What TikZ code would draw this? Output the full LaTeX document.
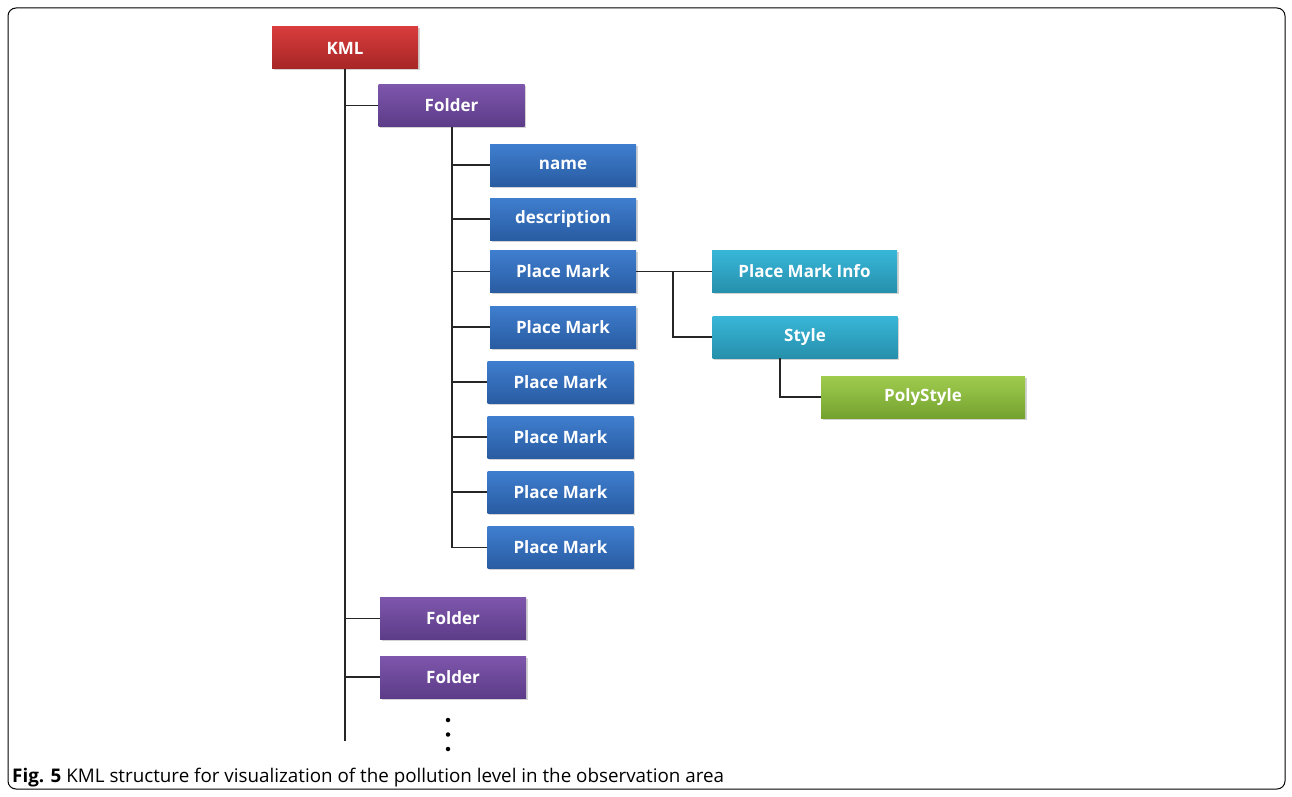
\documentclass[tikz,border=0pt]{standalone}
\usepackage{fontspec}
\setmainfont{Open Sans}
\usetikzlibrary{shadows}
\definecolor{redT}{HTML}{D83C3C}\definecolor{redB}{HTML}{A62626}
\definecolor{purT}{HTML}{7E56AC}\definecolor{purB}{HTML}{5C3C88}
\definecolor{bluT}{HTML}{3F7ECF}\definecolor{bluB}{HTML}{295CA2}
\definecolor{cyaT}{HTML}{38B6D8}\definecolor{cyaB}{HTML}{2690AC}
\definecolor{grnT}{HTML}{9FCC4E}\definecolor{grnB}{HTML}{74A22F}
\tikzset{
  box/.style={minimum height=42pt, inner sep=0pt, text=white,
    font=\fontsize{17}{19}\selectfont\bfseries,
    drop shadow={shadow xshift=1.5pt, shadow yshift=-1.5pt, opacity=0.35}},
  kmlbox/.style={box, top color=redT, bottom color=redB, minimum width=146pt},
  folderbox/.style={box, top color=purT, bottom color=purB, minimum width=146pt},
  itembox/.style={box, top color=bluT, bottom color=bluB, minimum width=146pt},
  infobox/.style={box, top color=cyaT, bottom color=cyaB, minimum width=185pt},
  polybox/.style={box, top color=grnT, bottom color=grnB, minimum width=204pt},
  link/.style={draw=black!85, line width=1.2pt},
  dot/.style={circle, fill=black, inner sep=0pt, minimum size=4.5pt}
}
\begin{document}
\begin{tikzpicture}[x=1pt,y=-1pt]
\useasboundingbox (0,0) rectangle (1292,797);
\draw[black, line width=1pt, rounded corners=8pt] (8,8) rectangle (1285,789);

\node[kmlbox] (kml) at (345,48) {KML};
\node[folderbox] (f1) at (451.5,105.5) {Folder};
\node[itembox] (name) at (563,165) {name};
\node[itembox] (desc) at (563,219) {description};
\node[itembox] (pm1) at (563,271.5) {Place Mark};
\node[itembox] (pm2) at (563,327) {Place Mark};
\node[itembox] (pm3) at (560.5,382) {Place Mark};
\node[itembox] (pm4) at (560.5,437) {Place Mark};
\node[itembox] (pm5) at (560.5,492) {Place Mark};
\node[itembox] (pm6) at (560.5,547.5) {Place Mark};
\node[infobox] (pmi) at (804.5,271.5) {Place Mark Info};
\node[infobox] (sty) at (805,337) {Style};
\node[polybox] (poly) at (923,397) {PolyStyle};
\node[folderbox] (f2) at (453,618.5) {Folder};
\node[folderbox] (f3) at (453,677) {Folder};

\node[dot] (d1) at (448,720) {};
\node[dot] (d2) at (448,734.5) {};
\node[dot] (d3) at (448,749) {};

\coordinate (kmlend) at (345,741);
\coordinate (f1end) at (452,547.5);

% KML trunk
\draw[link] (kml.south) -- (kmlend);
\foreach \n in {f1,f2,f3}{\draw[link] (\n.west) -- (\n.west -| kml.south);}
% Folder trunk
\draw[link] (f1.south -| 452,0) -- (f1end);
\foreach \n in {name,desc,pm1,pm2,pm3,pm4,pm5,pm6}{\draw[link] (\n.west) -- (\n.west -| f1end);}
% Place mark children
\draw[link] (pm1.east) -- (pmi.west);
\draw[link] (673,271.5) |- (sty.west);
% Style child
\draw[link] (sty.south -| 780,0) |- (poly.west);

\node[anchor=base west, inner sep=0pt, font=\fontsize{18.8}{22}\selectfont] (cap) at (12,782)
  {\textbf{Fig. 5} KML structure for visualization of the pollution level in the observation area};
\end{tikzpicture}
\end{document}
